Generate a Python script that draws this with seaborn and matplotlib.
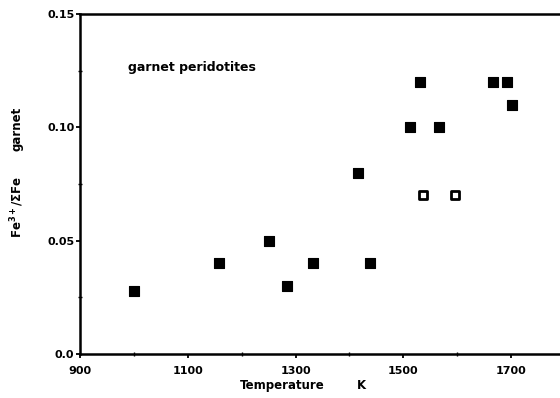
import matplotlib
matplotlib.use("Agg")
import matplotlib.pyplot as plt
from matplotlib.ticker import MultipleLocator
import seaborn as sns
import pandas as pd

# Garnet peridotites: temperature (K) vs Fe3+/sum Fe in garnet
temp_solid = [1000, 1158, 1250, 1285, 1332, 1438, 1416, 1512, 1566, 1531, 1666, 1692, 1701]
ratio_solid = [0.028, 0.040, 0.050, 0.030, 0.040, 0.040, 0.080, 0.100, 0.100, 0.120, 0.120, 0.120, 0.110]
temp_open = [1536, 1596]
ratio_open = [0.070, 0.070]

x_ticks = [900, 1100, 1300, 1500, 1700]
y_ticks = [0.0, 0.05, 0.10, 0.15]
y_tick_labels = ["0.0", "0.05", "0.10", "0.15"]

sns.set_theme(style="white")
plt.rcParams["font.family"] = ["DejaVu Sans"]
plt.rcParams["font.weight"] = "bold"
plt.rcParams["text.color"] = "black"
plt.rcParams["xtick.color"] = "black"
plt.rcParams["ytick.color"] = "black"

df_solid = pd.DataFrame({"T": temp_solid, "r": ratio_solid})
df_open = pd.DataFrame({"T": temp_open, "r": ratio_open})

fig = plt.figure(figsize=(5.6, 3.98), dpi=100)
W, H = 560, 398
ax = fig.add_axes([80 / W, 1 - 354 / H, 485 / W, 340 / H])

sns.scatterplot(data=df_solid, x="T", y="r", ax=ax, marker="s", s=50,
                color="black", edgecolor="black", linewidth=0.8, legend=False)
sns.scatterplot(data=df_open, x="T", y="r", ax=ax, marker="s", s=30,
                facecolor="white", edgecolor="black", linewidth=2.0, legend=False)

ax.set_xlim(900, 1800)
ax.set_ylim(0.0, 0.15)
ax.set_xticks(x_ticks)
ax.set_xticklabels([str(t) for t in x_ticks])
ax.set_yticks(y_ticks)
ax.set_yticklabels(y_tick_labels)
ax.xaxis.set_minor_locator(MultipleLocator(100))
ax.yaxis.set_minor_locator(MultipleLocator(0.025))

for side in ["left", "bottom", "top"]:
    ax.spines[side].set_visible(True)
    ax.spines[side].set_color("black")
    ax.spines[side].set_linewidth(1.8)
ax.spines["right"].set_visible(False)

ax.tick_params(axis="x", which="major", direction="out", length=3, width=1.3,
               colors="black", labelcolor="black", labelsize=8, pad=6, bottom=True)
ax.tick_params(axis="y", which="major", direction="out", length=3, width=1.3,
               colors="black", labelcolor="black", labelsize=8, pad=1, left=True)
ax.tick_params(axis="both", which="minor", direction="inout", length=3, width=1.0,
               colors="black", bottom=True, left=True)
for lab in ax.get_xticklabels() + ax.get_yticklabels():
    lab.set_fontweight("bold")
    lab.set_color("black")

ax.set_xlabel("")
ax.set_ylabel("")

# axis titles
fig.text(282 / W, 1 - 389 / H, "Temperature", ha="center", va="baseline",
         fontsize=8.5, fontweight="bold", color="black")
fig.text(361 / W, 1 - 389 / H, "K", ha="center", va="baseline",
         fontsize=8.5, fontweight="bold", color="black")
fig.text(17 / W, 1 - 129 / H, "garnet", ha="center", va="center",
         rotation=90, fontsize=8.5, fontweight="bold", color="black")
fig.text(17 / W, 1 - 207 / H, r"Fe$^{3+}$/$\mathbf{\Sigma}$Fe", ha="center", va="center",
         rotation=90, fontsize=8.5, fontweight="bold", color="black")

# panel annotation
fig.text(128 / W, 1 - 67 / H, "garnet peridotites", ha="left", va="center",
         fontsize=9, fontweight="bold", color="black")

fig.savefig("out.png", dpi=100, facecolor="white")
